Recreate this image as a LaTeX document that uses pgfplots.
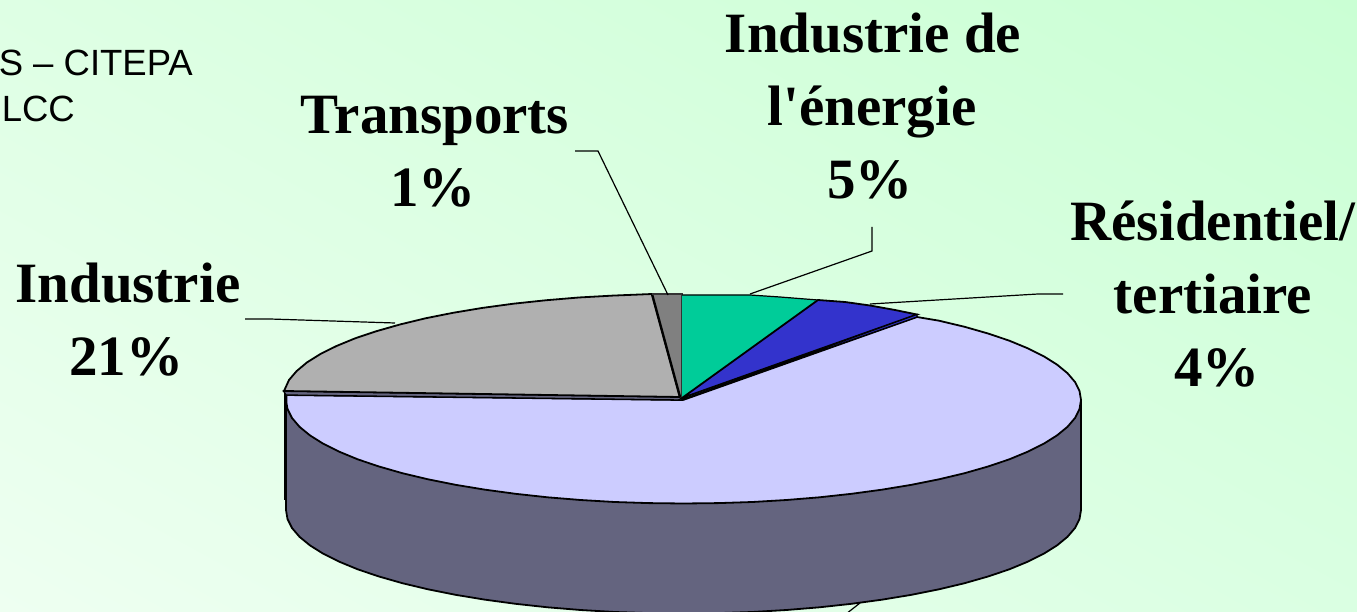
\documentclass[border=0pt]{standalone}
\usepackage{fontspec}
\setmainfont{Liberation Serif}
\newfontfamily\plainserif{Liberation Serif}
\newfontfamily\arialf{Liberation Sans}
\usepackage{pgfplots}
\usetikzlibrary{shadings}
\pgfplotsset{compat=1.18}
\definecolor{cSide}{HTML}{64647F}
\definecolor{cLight}{HTML}{CCCCFF}
\definecolor{cGray}{HTML}{B0B0B0}
\definecolor{cDark}{HTML}{808080}
\definecolor{cGreen}{HTML}{00CC99}
\definecolor{cBlue}{HTML}{3333CC}
\definecolor{bgLL}{HTML}{EEFFF1}
\definecolor{bgUL}{HTML}{DEFFE4}
\definecolor{bgLR}{HTML}{DAFFE2}
\definecolor{bgUR}{HTML}{CAFFD4}
\begin{document}
\begin{tikzpicture}
\begin{axis}[name=ax,at={(0,0)},anchor=south west,width=1357pt,height=612pt,scale only axis,
  xmin=0,xmax=1357,ymin=0,ymax=612,y dir=reverse,hide axis,clip=true]
\shade[lower left=bgLL,upper left=bgUL,lower right=bgLR,upper right=bgUR] (axis cs:0,0) rectangle (axis cs:1357,612);
% back wall of the grey slice
\addplot[black,line width=2pt] coordinates {(284.5,391) (284.5,500)};
% side of the pie
\addplot[fill=cSide,draw=black,line width=1.8pt] coordinates {
(286,395) (286,510) (286.5,513) (287.5,519) (292,528) (299.5,536.8) (310,545.4) (323.2,553.7) (339.5,561.8) (357.9,569.4) (379,576.5) (402.4,583.2) (428,589.3) (455.5,594.8) (484.5,599.6) (515.5,603.8) (547.5,607.3) (580.6,610) (614.5,612) (648.8,613.1) (683.5,613.5) (718.2,613.1) (752.5,612) (786.4,610) (819.5,607.3) (851.5,603.8) (882.5,599.6) (911.5,594.8) (939,589.3) (964.6,583.2) (988,576.5) (1009.1,569.4) (1027.5,561.8) (1043.8,553.7) (1057,545.4) (1067.5,536.8) (1075,528) (1079.5,519) (1081,510) (1081,400)} -- cycle;
% large slice
\addplot[fill=cLight,draw=black,line width=1.8pt] coordinates {
(683,400) (917,317) (939,320.7) (964.6,326.8) (988,333.5) (1009.1,340.6) (1027.5,348.2) (1043.8,356.3) (1057,364.6) (1067.5,373.2) (1075,382) (1079.5,391) (1081,400) (1079.5,409) (1075,418) (1067.5,426.8) (1057,435.4) (1043.8,443.7) (1027.5,451.8) (1009.1,459.4) (988,466.5) (964.6,473.2) (939,479.3) (911.5,484.8) (882.5,489.6) (851.5,493.8) (819.5,497.3) (786.4,500) (752.5,502) (718.2,503.1) (683.5,503.5) (648.8,503.1) (614.5,502) (580.6,500) (547.5,497.3) (515.5,493.8) (484.5,489.6) (455.5,484.8) (428,479.3) (402.4,473.2) (379,466.5) (357.9,459.4) (339.5,451.8) (323.2,443.7) (310,435.4) (299.5,426.8) (292,418) (287.5,409) (286.5,403) (286.5,395) (683,400)};
% band below the grey slice
\addplot[fill=cSide,draw=black,line width=1.3pt] coordinates {(283.5,391) (682,397) (682,400) (286,395)} -- cycle;
% grey slice
\addplot[fill=cGray,draw=black,line width=1.8pt] coordinates {
(284,391) (289,380) (296.6,371.1) (307,362.4) (320.4,354) (336.5,346) (355.2,338.3) (376.4,331.2) (399.9,324.5) (425.5,318.3) (453.1,312.8) (482.5,307.9) (513.4,303.7) (545.5,300.3) (578.7,297.5) (612.7,295.6) (652,294) (680,397)} -- cycle;
% Transports
\addplot[fill=cDark,draw=none] coordinates {(652,294) (682,294) (682,398) (680,397)} -- cycle;
\addplot[black,line width=2.4pt] coordinates {(652,294) (680,397)};
\addplot[black!60!cDark,line width=1.2pt] coordinates {(652,294) (682,294) (682,398)};
% energy
\addplot[fill=cGreen,draw=none] coordinates {(682,295) (750,295) (780,297) (818,300) (682,398)} -- cycle;
\addplot[black,line width=1.2pt] coordinates {(682,295) (750,295) (780,297) (818,300)};
% residential
\addplot[fill=cBlue,draw=black,line width=1.8pt] coordinates {(682,398) (818,300) (845,302) (870,305.5) (895,310) (917,314.5)} -- cycle;
\addplot[fill=cBlue,draw=black,line width=1.1pt] coordinates {(683,399) (917,314.5) (917,317)} -- cycle;
% leaders
\addplot[black,line width=1.2pt] coordinates {(575,151) (598,151) (668,295)};
\addplot[black,line width=1.2pt] coordinates {(872,227) (872,251) (750,294)};
\addplot[black,line width=1.2pt] coordinates {(1063,294) (1038,294) (870,304)};
\addplot[black,line width=1.2pt] coordinates {(245,319) (270,319) (395,323)};
\addplot[black,line width=1.2pt] coordinates {(860,603) (846,614)};
\end{axis}
\pgfresetboundingbox
\path[use as bounding box] (0,0) rectangle (1357pt,612pt);
\begin{scope}[shift={(0,612pt)},y=-1pt,x=1pt]
\def\lab{\plainserif\fontsize{57}{73}\selectfont\bfseries}
\node[inner sep=0pt,anchor=base] at (873,53) {\lab Industrie de};
\node[inner sep=0pt,anchor=base] at (872,126) {\lab l'énergie};
\node[inner sep=0pt,anchor=base] at (870,199) {\lab 5\%};
\node[inner sep=0pt,anchor=base] at (435,134) {\lab Transports};
\node[inner sep=0pt,anchor=base] at (433,207) {\lab 1\%};
\node[inner sep=0pt,anchor=base] at (128,303) {\lab Industrie};
\node[inner sep=0pt,anchor=base] at (126,376) {\lab 21\%};
\node[inner sep=0pt,anchor=base] at (1213,241) {\lab Résidentiel/};
\node[inner sep=0pt,anchor=base] at (1213,314) {\lab tertiaire};
\node[inner sep=0pt,anchor=base] at (1217,387) {\lab 4\%};
\node[inner sep=0pt,anchor=base east] at (193,76) {\arialf\fontsize{36.5}{40}\selectfont S – CITEPA};
\node[inner sep=0pt,anchor=base east] at (75,122) {\arialf\fontsize{36.5}{40}\selectfont LCC};
\end{scope}
\end{tikzpicture}
\end{document}
